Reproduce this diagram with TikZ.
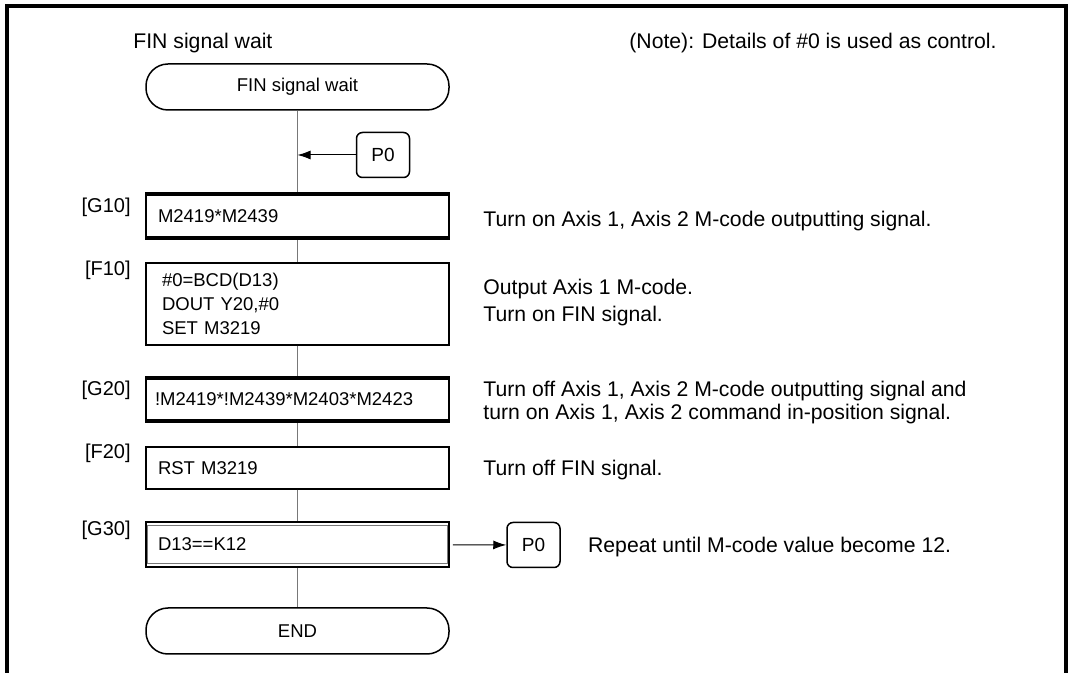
\documentclass[tikz,border=0pt]{standalone}
\usepackage{fontspec}
\setmainfont{Liberation Sans}
\usetikzlibrary{arrows.meta,positioning}
\definecolor{flowgray}{RGB}{120,120,120}

\begin{document}
\begin{tikzpicture}[x=0.5pt,y=-0.5pt,
  stepbox/.style={draw,line width=0.75pt,minimum width=151.5pt,text width=139.5pt,
    inner xsep=6pt,inner ysep=0pt,align=left,font=\fontsize{9.25}{12}\selectfont},
  term/.style={draw,line width=0.75pt,rounded corners=11pt,minimum width=151.5pt,
    minimum height=23pt,font=\fontsize{9.25}{12}\selectfont},
  jump/.style={draw,line width=0.75pt,rounded corners=3pt,minimum width=26.5pt,
    minimum height=22.5pt,inner sep=0pt,font=\fontsize{9.5}{12}\selectfont},
  tag/.style={anchor=east,inner sep=0pt,text height=7.2pt,text depth=0pt,
    font=\fontsize{10}{12}\selectfont},
  desc/.style={anchor=west,inner sep=0pt,text height=7.6pt,text depth=0pt,
    font=\fontsize{10.6}{12.7}\selectfont},
  flow/.style={draw=flowgray,line width=0.5pt},
  arr/.style={-{Latex[length=6.5pt,width=4.5pt]},line width=0.5pt},
  gbar/.style={line width=2pt}]
  \useasboundingbox (0,0) rectangle (1072,673);
  % frame, open at the bottom
  \draw[line width=2pt] (6.5,673) -- (6.5,6.5) -- (1065.5,6.5) -- (1065.5,673);

  \node[desc] (title) at (133,41) {FIN signal wait};
  \node[desc] (note) at (629,41) {(Note): Details of \#0 is used as control.};

  % program steps
  \node[term] (start) at (297.5,87) {FIN signal wait};
  \node[jump] (p0a) at (383,155) {P0};
  \node[stepbox,minimum height=21pt] (g10) at (297.5,216) {M2419*M2439};
  \node[stepbox,minimum height=41pt,inner xsep=8pt,text width=135.5pt] (f10) at (297.5,304)
    {\#0=BCD(D13)\\DOUT Y20,\#0\\SET M3219};
  \node[stepbox,minimum height=20.5pt,inner xsep=4.5pt,text width=142.5pt] (g20) at (297.5,399.5)
    {!M2419*!M2439*M2403*M2423};
  \node[stepbox,minimum height=21pt] (f20) at (297.5,468) {RST M3219};
  \node[stepbox,minimum height=22.5pt] (g30) at (297.5,544.5) {D13==K12};
  \node[term] (end) at (297.5,631) {END};
  \node[jump] (p0b) at (533.5,545) {P0};

  \foreach \a/\b in {start/g10,g10/f10,f10/g20,g20/f20,f20/g30,g30/end}
    \draw[flow] (\a) -- (\b);
  \foreach \n in {g10,g20}{
    \draw[gbar] (\n.north west) -- (\n.north east);
    \draw[gbar] (\n.south west) -- (\n.south east);}
  \draw[flowgray,line width=0.5pt] ([shift={(1pt,-2pt)}]g30.north west)
    rectangle ([shift={(-1pt,2pt)}]g30.south east);

  \coordinate (join) at (start.south |- p0a);
  \draw[arr] (p0a) -- (join);
  \draw[arr,shorten <=1.5pt] (g30) -- (p0b);

  % step names
  \node[tag] (t10) at (131,205) {[G10]};
  \node[tag] (t11) at (131,268) {[F10]};
  \node[tag] (t20) at (131,388) {[G20]};
  \node[tag] (t21) at (131,451) {[F20]};
  \node[tag] (t30) at (131,528) {[G30]};

  % comments
  \node[desc] (d10) at (483,219) {Turn on Axis 1, Axis 2 M-code outputting signal.};
  \node[desc] (d11a) at (483,287) {Output Axis 1 M-code.};
  \node[desc] (d11b) at (483,314) {Turn on FIN signal.};
  \node[desc] (d20a) at (483,389) {Turn off Axis 1, Axis 2 M-code outputting signal and};
  \node[desc] (d20b) at (483,412) {turn on Axis 1, Axis 2 command in-position signal.};
  \node[desc] (d21) at (483,468) {Turn off FIN signal.};
  \node[desc,right=13.5pt of p0b] (d30) {Repeat until M-code value become 12.};
\end{tikzpicture}
\end{document}
